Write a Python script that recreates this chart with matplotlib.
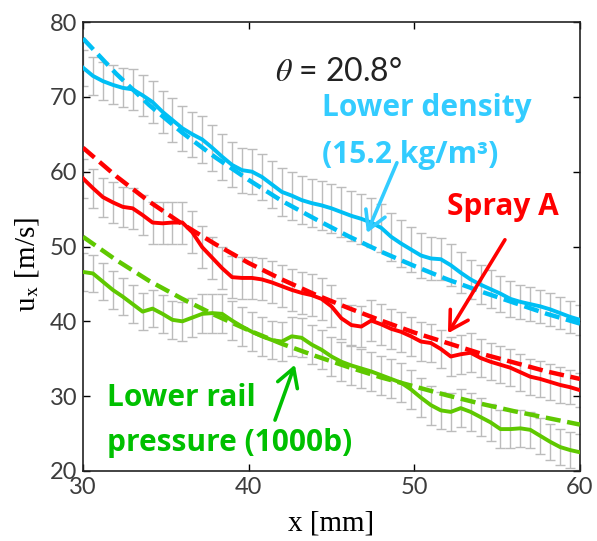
import matplotlib
matplotlib.use('Agg')
import matplotlib.pyplot as plt
import numpy as np

# measurement positions [mm]
x_meas = [30.0, 30.6, 31.2, 31.8, 32.4, 33.0, 33.6, 34.2, 34.8, 35.4,
          36.0, 36.6, 37.2, 37.8, 38.4, 39.0, 39.6, 40.2, 40.8, 41.4,
          42.0, 42.6, 43.2, 43.8, 44.4, 45.0, 45.6, 46.2, 46.8, 47.4,
          48.0, 48.6, 49.2, 49.8, 50.4, 51.0, 51.6, 52.2, 52.8, 53.4,
          54.0, 54.6, 55.2, 55.8, 56.4, 57.0, 57.6, 58.2, 58.8, 59.4, 60.0]

# measured axial velocity [m/s]
u_density = [73.9, 72.8, 72.1, 71.6, 71.2, 71.0, 70.2, 69.3, 68.0, 66.9,
             65.8, 65.0, 64.3, 63.2, 62.0, 60.9, 60.2, 60.0, 59.3, 58.3,
             57.3, 56.8, 56.2, 55.8, 55.5, 55.1, 54.6, 54.1, 53.7, 53.2,
             52.5, 51.3, 50.4, 49.6, 48.8, 48.4, 48.3, 47.5, 46.5, 45.6,
             44.9, 44.3, 43.7, 43.0, 42.6, 42.3, 42.0, 41.6, 41.1, 40.6, 40.2]
u_spray_a = [59.1, 57.8, 56.6, 55.9, 55.3, 55.1, 54.2, 53.2, 53.1, 53.2,
             53.2, 51.9, 49.9, 48.5, 47.1, 45.9, 45.8, 45.8, 45.6, 45.2,
             44.7, 44.2, 43.8, 43.5, 43.0, 42.0, 40.4, 39.5, 39.3, 40.1,
             39.6, 39.0, 38.6, 38.0, 37.3, 37.1, 36.3, 35.3, 35.6, 35.8,
             35.1, 34.6, 34.2, 33.8, 33.2, 32.6, 32.3, 31.9, 31.5, 31.2, 30.8]
u_rail = [46.6, 46.4, 45.3, 44.2, 43.3, 42.3, 41.3, 41.7, 41.0, 40.2,
          40.0, 40.5, 41.0, 41.1, 41.0, 40.1, 39.3, 38.6, 38.0, 37.5,
          37.3, 38.0, 37.8, 36.9, 36.2, 35.3, 34.6, 34.1, 33.7, 33.3,
          32.8, 32.3, 31.8, 30.9, 29.8, 28.8, 28.1, 27.9, 28.4, 27.9,
          27.2, 26.5, 25.6, 25.6, 25.7, 25.5, 24.7, 23.9, 23.2, 22.8, 22.5]

# error bar half-widths [m/s]
err_density = [2.4, 2.5, 2.5, 2.6, 2.6, 2.7, 2.7, 2.8, 2.8, 2.9,
               3.0, 3.0, 3.1, 3.1, 3.1, 3.0, 3.0, 3.0, 3.1, 3.1,
               3.2, 3.2, 3.2, 3.2, 3.3, 3.3, 3.3, 3.3, 3.3, 3.3,
               3.2, 3.2, 3.1, 3.0, 3.0, 2.9, 2.8, 2.8, 2.7, 2.6,
               2.6, 2.5, 2.4, 2.4, 2.3, 2.3, 2.2, 2.2, 2.1, 2.1, 2.0]
err_spray_a = [2.6, 2.6, 2.6, 2.7, 2.7, 2.7, 2.7, 2.8, 2.8, 2.8,
               2.8, 2.8, 2.8, 2.8, 2.8, 2.8, 2.8, 2.8, 2.8, 2.8,
               2.8, 2.8, 2.8, 2.8, 2.8, 2.8, 2.7, 2.7, 2.7, 2.7,
               2.7, 2.7, 2.7, 2.6, 2.6, 2.6, 2.6, 2.6, 2.6, 2.6,
               2.5, 2.5, 2.5, 2.5, 2.5, 2.4, 2.4, 2.4, 2.4, 2.3, 2.3]
err_rail = [2.5, 2.5, 2.5, 2.5, 2.5, 2.5, 2.5, 2.5, 2.5, 2.5,
            2.6, 2.6, 2.6, 2.6, 2.6, 2.6, 2.6, 2.6, 2.6, 2.6,
            2.6, 2.6, 2.6, 2.6, 2.6, 2.6, 2.6, 2.6, 2.6, 2.6,
            2.6, 2.6, 2.6, 2.6, 2.6, 2.6, 2.5, 2.5, 2.5, 2.5,
            2.5, 2.5, 2.5, 2.5, 2.5, 2.4, 2.4, 2.4, 2.4, 2.4, 2.4]

# fitted curves (dashed)
x_fit = [30, 32, 34, 36, 38, 40, 42, 44, 46, 48, 50, 52, 54, 56, 58, 60]
fit_density = [77.8, 73.1, 68.9, 65.2, 61.9, 58.9, 56.1, 53.7, 51.4, 49.3,
               47.4, 45.6, 44.0, 42.5, 41.0, 39.7]
fit_spray_a = [63.2, 59.4, 56.0, 53.0, 50.3, 47.8, 45.6, 43.6, 41.8, 40.1,
               38.5, 37.1, 35.7, 34.5, 33.3, 32.3]
fit_rail = [51.3, 48.2, 45.4, 43.0, 40.8, 38.8, 37.0, 35.4, 33.9, 32.5,
            31.3, 30.1, 29.0, 28.0, 27.1, 26.2]

c_density = '#00BFF5'
c_spray = '#FF0000'
c_rail = '#5FC800'
c_density_txt = '#33CCFF'
c_rail_txt = '#00C000'

plt.rcParams['mathtext.fontset'] = 'stix'

fig = plt.figure(figsize=(5.97, 5.41), dpi=100)
ax = fig.add_axes([0.139, 0.1294, 0.8325, 0.8299])

for u, e in [(u_density, err_density), (u_spray_a, err_spray_a), (u_rail, err_rail)]:
    ax.errorbar(x_meas, u, yerr=e, fmt='none', ecolor='#bcbcbc', elinewidth=1.0,
                capsize=3.8, capthick=1.0, zorder=1)

for u, c in [(u_density, c_density), (u_spray_a, c_spray), (u_rail, c_rail)]:
    ax.plot(x_meas, u, color=c, lw=2.8, zorder=3)

for f, c in [(fit_density, c_density), (fit_spray_a, c_spray), (fit_rail, c_rail)]:
    ax.plot(x_fit, f, color=c, lw=3.2, dashes=(3.4, 1.5), zorder=3)

ax.set_xlim(30, 60)
ax.set_ylim(20, 80)
ax.set_xticks([30, 40, 50, 60])
ax.set_yticks([20, 30, 40, 50, 60, 70, 80])
ax.tick_params(direction='in', top=True, right=True, length=5, width=1,
               labelsize=17, labelcolor='#3c3c3c', pad=4)
for lab in ax.get_xticklabels() + ax.get_yticklabels():
    lab.set_family('Lato')
for s in ax.spines.values():
    s.set_color('#222222')
    s.set_linewidth(1.2)

ax.set_xlabel('x [mm]', fontsize=21, family='Liberation Serif', va='center')
ax.xaxis.set_label_coords(0.5, -0.118)
ax.set_ylabel(r'u$_\mathrm{x}$ [m/s]', fontsize=21, family='Liberation Serif', va='center')
ax.yaxis.set_label_coords(-0.113, 0.46)

# annotations
ax.text(41.6, 73.3, r'$\theta$ = 20.8°', fontsize=23, family='Lato', color='#222222',
        va='center', ha='left')
ax.text(44.4, 68.5, 'Lower density', fontsize=21.5, family='Open Sans', weight='bold',
        color=c_density_txt, va='center', ha='left')
ax.text(44.4, 62.2, '(15.2 kg/m³)', fontsize=21.5, family='Open Sans', weight='bold',
        color=c_density_txt, va='center', ha='left')
ax.text(52.0, 55.3, 'Spray A', fontsize=21.5, family='Open Sans', weight='bold',
        color=c_spray, va='center', ha='left')
ax.text(31.45, 29.75, 'Lower rail', fontsize=21.5, family='Open Sans', weight='bold',
        color=c_rail_txt, va='center', ha='left')
ax.text(31.45, 23.7, 'pressure (1000b)', fontsize=21.5, family='Open Sans', weight='bold',
        color=c_rail_txt, va='center', ha='left')

arrow = '->,head_length=1.3,head_width=0.75'
ax.annotate('', xy=(47.14, 51.8), xytext=(48.95, 61.2),
            arrowprops=dict(arrowstyle=arrow, lw=2.6, color=c_density_txt, shrinkA=0, shrinkB=0), zorder=5)
ax.annotate('', xy=(52.03, 38.4), xytext=(55.47, 50.9),
            arrowprops=dict(arrowstyle=arrow, lw=2.6, color=c_spray, shrinkA=0, shrinkB=0), zorder=5)
ax.annotate('', xy=(42.79, 34.2), xytext=(41.59, 26.8),
            arrowprops=dict(arrowstyle=arrow, lw=2.6, color=c_rail_txt, shrinkA=0, shrinkB=0), zorder=5)

fig.savefig('out.png', dpi=100)
